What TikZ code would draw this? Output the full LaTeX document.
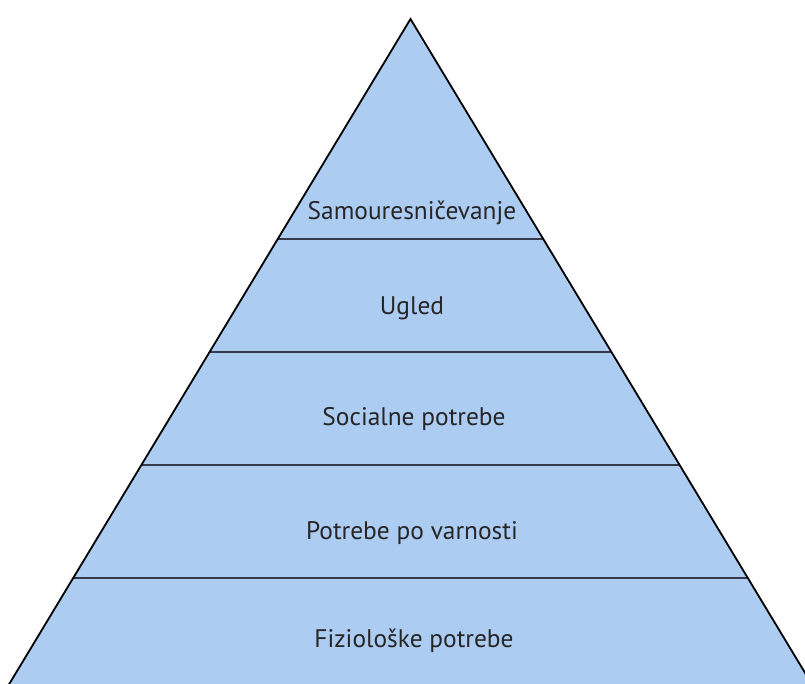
\documentclass[tikz,border=0pt]{standalone}
\usepackage{fontspec}
\setmainfont{PT Sans}
\definecolor{pyrfill}{RGB}{172,204,242}
\definecolor{divline}{RGB}{52,58,72}
\begin{document}
\begin{tikzpicture}[x=1pt,y=-1pt,
  lbl/.style={font=\fontsize{25.4}{30}\selectfont, text=black!85, inner sep=0pt, anchor=base},
  divider/.style={draw=divline, line width=2.4pt},
  outline/.style={draw=black, line width=1.8pt, line join=miter}]
\useasboundingbox (0,0) rectangle (805,684);
\begin{scope}
\clip (0,0) rectangle (805,684);
\coordinate (apex) at (410.5,19);
\coordinate (bl2) at (2,696);
\coordinate (br2) at (819,696);
\coordinate (l1) at (277.1,239); \coordinate (r1) at (543.9,239);
\coordinate (l2) at (209.5,352); \coordinate (r2) at (611.5,352);
\coordinate (l3) at (141.3,465); \coordinate (r3) at (679.7,465);
\coordinate (l4) at (73.1,578);  \coordinate (r4) at (747.9,578);
\fill[pyrfill] (apex) -- (bl2) -- (br2) -- cycle;
\draw[divider] (l1) -- (r1);
\draw[divider] (l2) -- (r2);
\draw[divider] (l3) -- (r3);
\draw[divider] (l4) -- (r4);
\draw[outline] (bl2) -- (apex) -- (br2);
\end{scope}
\node[lbl] (t1) at (412,220) {Samouresničevanje};
\node[lbl] (t2) at (412,314) {Ugled};
\node[lbl] (t3) at (414,425) {Socialne potrebe};
\node[lbl] (t4) at (412,539) {Potrebe po varnosti};
\node[lbl] (t5) at (414,647) {Fiziološke potrebe};
\end{tikzpicture}
\end{document}
